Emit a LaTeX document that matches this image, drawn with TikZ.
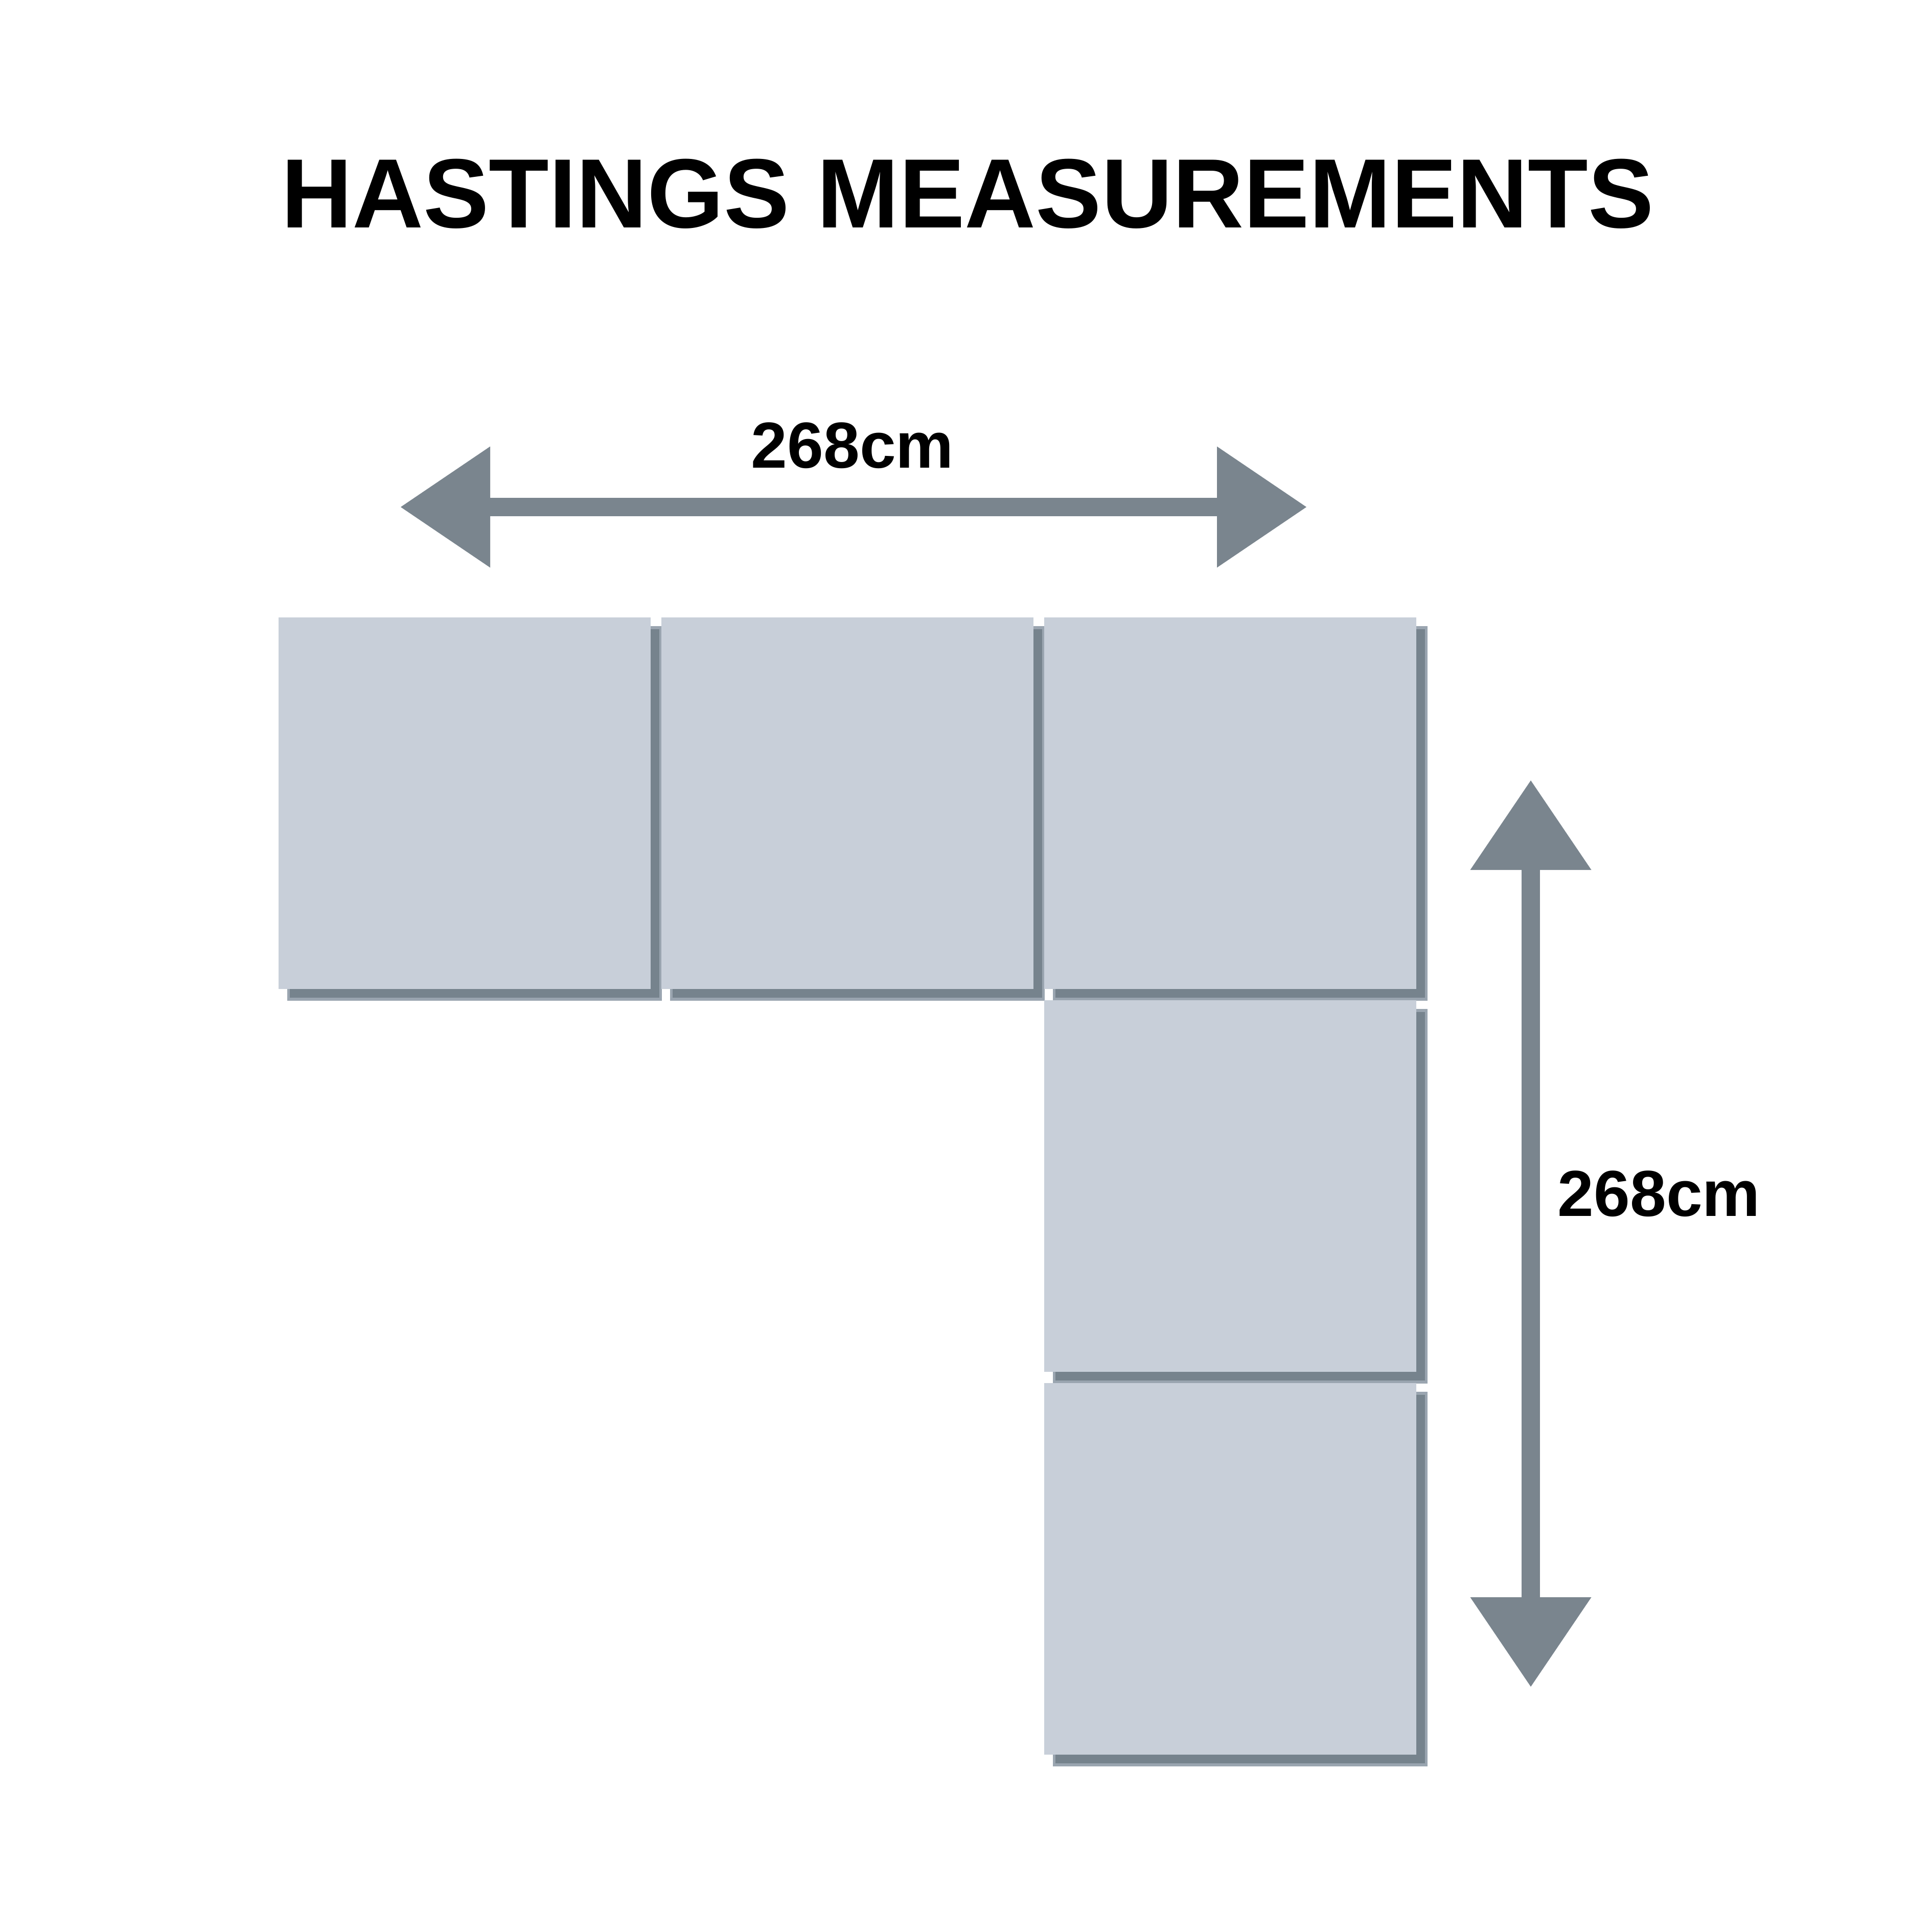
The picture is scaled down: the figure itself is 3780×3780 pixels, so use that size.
\documentclass[tikz,border=0pt]{standalone}
\usepackage{fontspec}
\setmainfont{Liberation Sans}
\usetikzlibrary{arrows.meta,shadows}
\definecolor{seatfill}{HTML}{C8CFD9}
\definecolor{shadowfill}{HTML}{76838D}
\definecolor{shadowedge}{HTML}{9AA5B0}
\definecolor{dimgrey}{HTML}{7A858E}
\begin{document}
\begin{tikzpicture}[x=0.1mm,y=-0.1mm,
  seat/.style={rectangle, inner sep=0pt, minimum width=72.8mm, minimum height=72.7mm, fill=seatfill,
    general shadow={shadow xshift=1.95mm, shadow yshift=-2mm, fill=shadowfill, draw=shadowedge, line width=0.55mm}},
  dimline/.style={draw=dimgrey, line width=3.6mm, {Triangle[length=17.5mm,width=23.7mm,line width=0pt]}-{Triangle[length=17.5mm,width=23.7mm,line width=0pt]}},
  titletext/.style={font=\bfseries\fontsize{54.8pt}{60pt}\selectfont, inner sep=0pt, anchor=base},
  dimlabel/.style={font=\bfseries\fontsize{36.2pt}{40pt}\selectfont, inner sep=0pt, anchor=base}]
\fill[white] (0,0) rectangle (3780,3780);
\useasboundingbox (0,0) rectangle (3780,3780);

% title
\node[titletext] (title) at (1893,445) {HASTINGS MEASUREMENTS};

% seats
\node[seat] (s1) at (909,1571.5) {};
\node[seat] (s2) at (1658,1571.5) {};
\node[seat] (s3) at (2407,1571.5) {};
\node[seat] (s4) at (2407,2320.5) {};
\node[seat] (s5) at (2407,3069.5) {};

% horizontal dimension
\coordinate (hl) at (784,992);
\coordinate (hr) at (2556,992);
\draw[dimline] (hl) -- (hr);
\node[dimlabel] (wlabel) at (1668,915) {268cm};

% vertical dimension
\coordinate (vt) at (2995,1527);
\coordinate (vb) at (2995,3300);
\draw[dimline] (vt) -- (vb);
\node[dimlabel] (dlabel) at (3246,2379) {268cm};
\end{tikzpicture}
\end{document}
